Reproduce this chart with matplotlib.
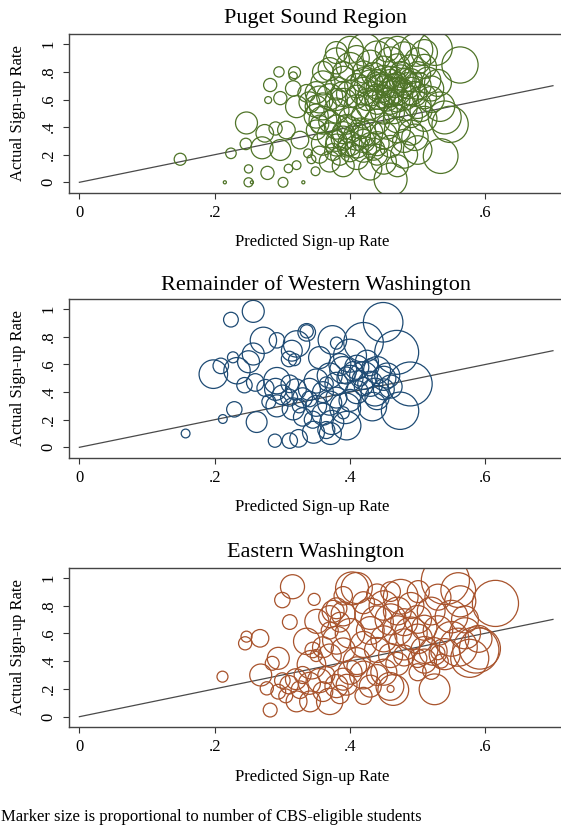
import numpy as np
import matplotlib
matplotlib.use("Agg")
import matplotlib.pyplot as plt

plt.rcParams['font.family'] = ['Liberation Serif', 'DejaVu Serif']

# ---- data: predicted rate, actual rate, CBS-eligible students (relative) ----
puget_x = [0.149, 0.224, 0.246, 0.247, 0.25, 0.25, 0.255, 0.215, 0.331, 0.278,
           0.301, 0.274, 0.282, 0.295, 0.318, 0.279, 0.27, 0.309, 0.321, 0.343,
           0.349, 0.297, 0.306, 0.297, 0.316, 0.321, 0.336, 0.326, 0.338, 0.29,
           0.316,
           0.5626, 0.548, 0.533, 0.534, 0.46, 0.50, 0.498, 0.526, 0.422, 0.54, 0.496,
           0.37, 0.39, 0.41, 0.43, 0.45, 0.47, 0.40, 0.42, 0.44, 0.48, 0.355, 0.385,
           0.36, 0.37, 0.38, 0.39, 0.40, 0.41, 0.42, 0.43, 0.44, 0.45, 0.46, 0.47,
           0.48, 0.35, 0.38, 0.395, 0.415, 0.435, 0.455, 0.49, 0.375,
           0.35, 0.36, 0.37, 0.38, 0.39, 0.40, 0.41, 0.42, 0.43, 0.44, 0.45, 0.46,
           0.47, 0.48, 0.49, 0.50, 0.51, 0.34, 0.355, 0.395, 0.425, 0.465, 0.505,
           0.35, 0.36, 0.37, 0.38, 0.39, 0.40, 0.41, 0.42, 0.43, 0.44, 0.445, 0.45,
           0.46, 0.465, 0.47, 0.475, 0.48, 0.485, 0.49, 0.495, 0.50, 0.51, 0.515,
           0.455, 0.435, 0.47, 0.45, 0.48, 0.46, 0.44, 0.52,
           0.37, 0.38, 0.40, 0.41, 0.43, 0.44, 0.45, 0.46, 0.47, 0.48, 0.49, 0.50,
           0.51, 0.39, 0.455, 0.42, 0.475, 0.355, 0.36,
           0.43, 0.44, 0.46, 0.47, 0.48, 0.45, 0.49, 0.42, 0.50, 0.46, 0.44, 0.41,
           0.38, 0.39, 0.36, 0.53, 0.52, 0.40, 0.39, 0.41, 0.38, 0.42, 0.43, 0.40,
           0.38, 0.47, 0.51, 0.35]
puget_y = [0.167, 0.21, 0.278, 0.43, 0.097, 0.0, 0.0, 0.0, 0.0, 0.068,
           0.0, 0.355, 0.705, 0.80, 0.795, 0.596, 0.25, 0.10, 0.124, 0.167,
           0.08, 0.234, 0.379, 0.61, 0.68, 0.548, 0.645, 0.306, 0.21, 0.39,
           0.77,
           0.85, 0.42, 0.548, 0.19, 0.02, 0.234, 0.96, 0.97, 0.96, 0.47, 0.326,
           0.15, 0.12, 0.18, 0.10, 0.15, 0.12, 0.22, 0.24, 0.20, 0.20, 0.20, 0.19,
           0.28, 0.34, 0.30, 0.36, 0.28, 0.33, 0.30, 0.36, 0.28, 0.34, 0.26, 0.38,
           0.30, 0.38, 0.40, 0.25, 0.39, 0.24, 0.40, 0.36, 0.22,
           0.48, 0.55, 0.44, 0.52, 0.58, 0.46, 0.54, 0.48, 0.56, 0.44, 0.52, 0.58,
           0.46, 0.54, 0.48, 0.56, 0.46, 0.58, 0.42, 0.42, 0.60, 0.50, 0.52,
           0.65, 0.72, 0.62, 0.68, 0.75, 0.64, 0.70, 0.66, 0.72, 0.62, 0.68, 0.75,
           0.64, 0.70, 0.66, 0.76, 0.62, 0.70, 0.74, 0.64, 0.70, 0.62, 0.74,
           0.60, 0.78, 0.72, 0.70, 0.68, 0.76, 0.74, 0.68,
           0.82, 0.88, 0.84, 0.90, 0.86, 0.92, 0.82, 0.88, 0.84, 0.92, 0.82, 0.88,
           0.84, 0.80, 0.96, 0.80, 0.80, 0.60, 0.45,
           0.64, 0.70, 0.66, 0.60, 0.74, 0.62, 0.66, 0.74, 0.78, 0.72, 0.58, 0.62,
           0.60, 0.64, 0.80, 0.72, 0.60, 0.38, 0.32, 0.26, 0.27, 0.35, 0.28, 0.96,
           0.94, 0.96, 0.94, 0.55]
puget_n = [30, 23, 27, 100, 14, 17, 2, 2, 2, 36,
           20, 64, 36, 22, 30, 10, 100, 15, 16, 16,
           16, 90, 64, 36, 49, 100, 64, 64, 16, 36,
           14,
           272, 272, 180, 250, 225, 169, 225, 240, 225, 225, 144,
           90, 100, 120, 110, 130, 100, 80, 140, 90, 150, 60, 70,
           110, 130, 90, 100, 120, 150, 110, 130, 120, 150, 100, 140,
           110, 80, 120, 70, 90, 100, 120, 130, 60,
           120, 150, 100, 130, 160, 110, 140, 120, 170, 130, 150, 120,
           160, 140, 110, 150, 130, 90, 70, 80, 100, 90, 100,
           100, 120, 140, 110, 130, 150, 120, 160, 140, 130, 170, 150,
           140, 120, 160, 130, 150, 140, 110, 130, 150, 120, 140,
           110, 120, 90, 80, 70, 100, 90, 130,
           110, 140, 160, 130, 150, 170, 140, 160, 130, 150, 170, 140,
           120, 90, 120, 100, 90, 150, 160,
           120, 140, 150, 130, 120, 110, 160, 130, 140, 150, 120, 110,
           100, 130, 90, 150, 140, 140, 120, 110, 100, 130, 100, 150,
           100, 150, 140, 100]

west_x = [0.157, 0.212, 0.229, 0.224, 0.257, 0.198, 0.209, 0.227, 0.262, 0.272,
          0.292, 0.257, 0.233, 0.26, 0.289, 0.311, 0.321, 0.336, 0.292, 0.311,
          0.292, 0.316, 0.25, 0.244, 0.31, 0.314, 0.275, 0.30, 0.318, 0.28,
          0.29,
          0.449, 0.42, 0.469, 0.489, 0.474, 0.437, 0.433, 0.395, 0.373, 0.371,
          0.346, 0.324, 0.365, 0.393, 0.374, 0.38, 0.40, 0.336, 0.355,
          0.34, 0.35, 0.36, 0.37, 0.38, 0.39, 0.40, 0.41, 0.42, 0.43, 0.44, 0.45,
          0.46, 0.405, 0.395, 0.415, 0.385, 0.425, 0.35, 0.33, 0.36, 0.345, 0.33,
          0.37, 0.38, 0.40, 0.41, 0.42, 0.44, 0.45, 0.325, 0.34, 0.365, 0.39,
          0.43, 0.32, 0.31, 0.455]
west_y = [0.10, 0.205, 0.275, 0.925, 0.985, 0.53, 0.59, 0.652, 0.183, 0.775,
          0.775, 0.676, 0.555, 0.47, 0.048, 0.048, 0.749, 0.833, 0.483, 0.46,
          0.30, 0.278, 0.62, 0.45, 0.64, 0.70, 0.43, 0.38, 0.635, 0.33,
          0.42,
          0.906, 0.761, 0.688, 0.459, 0.265, 0.40, 0.295, 0.157, 0.18, 0.10,
          0.109, 0.065, 0.125, 0.283, 0.778, 0.755, 0.664, 0.84, 0.65,
          0.42, 0.48, 0.40, 0.52, 0.46, 0.56, 0.50, 0.58, 0.52, 0.46, 0.56, 0.50,
          0.44, 0.55, 0.52, 0.50, 0.60, 0.62, 0.30, 0.36, 0.24, 0.20, 0.22,
          0.32, 0.36, 0.34, 0.40, 0.44, 0.36, 0.42, 0.30, 0.35, 0.46, 0.25,
          0.58, 0.42, 0.36, 0.52]
west_n = [16, 16, 49, 45, 100, 169, 50, 25, 90, 144,
          49, 100, 144, 64, 36, 49, 144, 64, 144, 64,
          100, 100, 100, 49, 50, 90, 60, 80, 30, 40,
          100,
          324, 324, 400, 400, 289, 160, 169, 169, 120, 100,
          100, 64, 60, 196, 169, 30, 225, 36, 100,
          100, 120, 90, 130, 110, 150, 140, 120, 160, 130, 150, 120,
          110, 80, 60, 50, 100, 110, 90, 80, 100, 60, 70,
          120, 90, 100, 110, 70, 120, 90, 40, 50, 40, 30,
          60, 90, 60, 130]

east_x = [0.2115, 0.245, 0.247, 0.267, 0.315, 0.30, 0.347, 0.311, 0.282, 0.268,
          0.285, 0.294, 0.277, 0.294, 0.326, 0.336, 0.343, 0.351, 0.321, 0.341,
          0.37, 0.375, 0.30, 0.31, 0.32, 0.305, 0.345, 0.35, 0.33, 0.34,
          0.355, 0.36, 0.38, 0.39, 0.395, 0.365, 0.385,
          0.525, 0.541, 0.615, 0.56, 0.586, 0.577, 0.592, 0.464, 0.403, 0.475,
          0.501, 0.459, 0.46, 0.523, 0.41, 0.563, 0.55, 0.57, 0.56, 0.54,
          0.59, 0.53, 0.55, 0.57, 0.51, 0.52, 0.535, 0.50,
          0.37, 0.38, 0.385, 0.39, 0.37, 0.38, 0.39, 0.40, 0.41, 0.42, 0.43, 0.43,
          0.44, 0.44, 0.45, 0.45, 0.46, 0.46, 0.47, 0.47, 0.48, 0.48, 0.49, 0.49,
          0.50, 0.50, 0.51, 0.51, 0.52, 0.53, 0.42, 0.43, 0.44, 0.45, 0.47, 0.48,
          0.42, 0.41, 0.40, 0.37, 0.36, 0.39, 0.42, 0.44, 0.46, 0.50, 0.53]
east_y = [0.288, 0.528, 0.576, 0.564, 0.935, 0.839, 0.844, 0.681, 0.048, 0.30,
          0.384, 0.42, 0.204, 0.18, 0.194, 0.542, 0.374, 0.686, 0.11, 0.11,
          0.11, 0.758, 0.26, 0.23, 0.27, 0.15, 0.48, 0.44, 0.30, 0.24,
          0.26, 0.18, 0.22, 0.27, 0.23, 0.30, 0.16,
          0.197, 0.98, 0.815, 0.911, 0.48, 0.42, 0.49, 0.192, 0.923, 0.863,
          0.90, 0.218, 0.20, 0.47, 0.926, 0.83, 0.56, 0.60, 0.50, 0.45,
          0.56, 0.62, 0.72, 0.70, 0.40, 0.33, 0.40, 0.32,
          0.72, 0.78, 0.68, 0.74, 0.62, 0.55, 0.48, 0.60, 0.40, 0.52, 0.62, 0.74,
          0.68, 0.48, 0.80, 0.56, 0.70, 0.44, 0.62, 0.76, 0.52, 0.68, 0.60, 0.80,
          0.56, 0.70, 0.64, 0.48, 0.76, 0.86, 0.30, 0.22, 0.30, 0.32, 0.38, 0.44,
          0.15, 0.36, 0.32, 0.44, 0.50, 0.87, 0.82, 0.88, 0.90, 0.42, 0.46]
east_n = [25, 36, 25, 64, 120, 49, 30, 45, 40, 100,
          40, 100, 36, 45, 64, 144, 169, 120, 90, 90,
          144, 100, 50, 70, 90, 40, 50, 30, 60, 100,
          120, 80, 110, 100, 90, 60, 70,
          196, 480, 441, 250, 441, 300, 350, 196, 225, 250,
          100, 160, 10, 160, 200, 200, 250, 200, 300, 200,
          150, 180, 220, 150, 120, 60, 40, 60,
          100, 90, 80, 120, 60, 160, 120, 180, 150, 140, 160, 200,
          220, 130, 180, 140, 200, 120, 180, 160, 200, 150, 220, 140,
          180, 160, 130, 150, 160, 140, 160, 100, 90, 140, 110, 90,
          60, 80, 120, 110, 90, 70, 100, 90, 80, 70, 40]

panels = [
    ("Puget Sound Region", puget_x, puget_y, puget_n, '#4f7428'),
    ("Remainder of Western Washington", west_x, west_y, west_n, '#1e4b74'),
    ("Eastern Washington", east_x, east_y, east_n, '#a8532c'),
]

W, H = 561, 826
fig = plt.figure(figsize=(W / 100, H / 100), dpi=100)

# pixel layout: (axes top, axes bottom, y0 px, y1 px, title y, xlabel y)
layout = [
    (33.7, 192.7, 182.3, 44.3, 19, 242),
    (298.7, 457.7, 447.3, 309.3, 285, 507),
    (568.3, 726.7, 716.7, 577.7, 553, 777),
]
ax_left_px, ax_right_px = 69, 573
x0_px, unit_px = 79.4, 676.5

for (title, xs, ys, ns, col), (top, bot, y0, y1, ty, xly) in zip(panels, layout):
    ax = fig.add_axes([ax_left_px / W, 1 - bot / H,
                       (ax_right_px - ax_left_px) / W, (bot - top) / H])
    xmin = (ax_left_px - x0_px) / unit_px
    xmax = (ax_right_px - x0_px) / unit_px
    per = y0 - y1
    ax.set_xlim(xmin, xmax)
    ax.set_ylim((y0 - bot) / per, (y0 - top) / per)

    ax.plot([0, 0.7], [0, 0.7], color='#4a4a4a', lw=0.9, zorder=1)
    s = np.array(ns) * 2.5
    ax.scatter(xs, ys, s=s, facecolors='none', edgecolors=col,
               linewidths=0.9, zorder=2)

    ax.set_xticks([0, 0.2, 0.4, 0.6])
    ax.set_xticklabels(['0', '.2', '.4', '.6'])
    ax.set_yticks([0, 0.2, 0.4, 0.6, 0.8, 1])
    ax.set_yticklabels(['0', '.2', '.4', '.6', '.8', '1'], rotation=90, va='center')
    ax.tick_params(direction='out', length=4, width=0.8, color='#333333',
                   labelsize=12, pad=5)
    ax.spines['right'].set_visible(False)
    for sp in ['left', 'bottom', 'top']:
        ax.spines[sp].set_color('#444444')
        ax.spines[sp].set_linewidth(1.0)

    fig.text(316 / W, 1 - ty / H, title, ha='center', va='center', fontsize=16)
    fig.text(312 / W, 1 - xly / H, "Predicted Sign-up Rate",
             ha='center', va='center', fontsize=12)
    fig.text(18 / W, 1 - (top + bot) / 2 / H, "Actual Sign-up Rate",
             ha='center', va='center', rotation=90, fontsize=12)

fig.text(1 / W, 1 - 817 / H,
         "Marker size is proportional to number of CBS-eligible students",
         ha='left', va='center', fontsize=12)

fig.savefig("out.png", dpi=100)
